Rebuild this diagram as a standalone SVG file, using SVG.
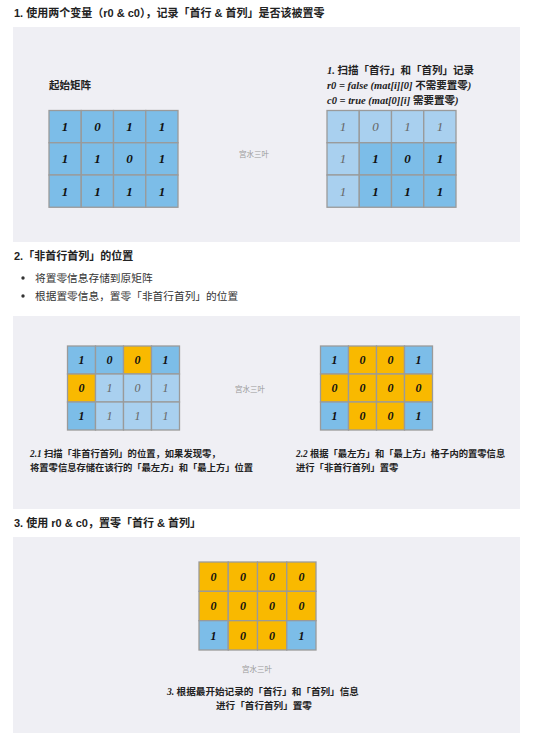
<svg xmlns="http://www.w3.org/2000/svg" width="541" height="737" viewBox="0 0 541 737">
<style>
.panel{fill:#EFEFF4}
.h{font-family:"Liberation Sans","Noto Sans CJK SC",sans-serif;font-size:11px;font-weight:bold;fill:#222}
.bt{font-family:"Liberation Sans","Noto Sans CJK SC",sans-serif;font-size:10.7px;fill:#333}
.cap{font-family:"Liberation Serif","Noto Sans CJK SC",serif;font-weight:bold;fill:#222}
.up{font-style:normal}
.wm{font-family:"Noto Sans CJK SC",sans-serif;font-size:7.5px;fill:#999}
rect.c{stroke:#9A9A9A;stroke-width:1.3}
.b{fill:#7CBDE8}.l{fill:#A9D0EF}.o{fill:#F9B900}
.n{font-family:"Liberation Serif",serif;font-style:italic;font-weight:bold;text-anchor:middle;fill:#111}
.nl{font-weight:normal;fill:#666}
.s13{font-size:13px}.s12{font-size:12px}
</style>
<rect width="541" height="737" fill="#ffffff"/>

<g id="heading1"><text class="h" x="14" y="17">1. 使用两个变量（r0 &amp; c0），记录「首行 &amp; 首列」是否该被置零</text></g>

<g id="panel1">
<rect class="panel" x="13" y="27" width="507" height="215"/>
<text class="cap" x="49" y="89" font-size="10.5">起始矩阵</text>
<text class="wm" x="239" y="157">宫水三叶</text>
<text class="cap" x="327" y="74" font-size="10.5"><tspan font-style="italic">1.</tspan> 扫描「首行」和「首列」记录</text>
<text class="cap" x="327" y="89" font-size="10.5" font-style="italic">r0 = false (mat[i][0] <tspan class="up">不需要置零</tspan>)</text>
<text class="cap" x="327" y="104" font-size="10.5" font-style="italic">c0 = true (mat[0][i] <tspan class="up">需要置零</tspan>)</text>
</g>

<g id="matrix1">
<rect class="c b" x="49" y="110.5" width="32.25" height="32.25"/><rect class="c b" x="81.25" y="110.5" width="32.25" height="32.25"/><rect class="c b" x="113.5" y="110.5" width="32.25" height="32.25"/><rect class="c b" x="145.75" y="110.5" width="32.25" height="32.25"/>
<rect class="c b" x="49" y="142.75" width="32.25" height="32.25"/><rect class="c b" x="81.25" y="142.75" width="32.25" height="32.25"/><rect class="c b" x="113.5" y="142.75" width="32.25" height="32.25"/><rect class="c b" x="145.75" y="142.75" width="32.25" height="32.25"/>
<rect class="c b" x="49" y="175" width="32.25" height="32.25"/><rect class="c b" x="81.25" y="175" width="32.25" height="32.25"/><rect class="c b" x="113.5" y="175" width="32.25" height="32.25"/><rect class="c b" x="145.75" y="175" width="32.25" height="32.25"/>
<g class="n s13">
<text x="65.1" y="131.1">1</text><text x="97.4" y="131.1">0</text><text x="129.6" y="131.1">1</text><text x="161.9" y="131.1">1</text>
<text x="65.1" y="163.4">1</text><text x="97.4" y="163.4">1</text><text x="129.6" y="163.4">0</text><text x="161.9" y="163.4">1</text>
<text x="65.1" y="195.6">1</text><text x="97.4" y="195.6">1</text><text x="129.6" y="195.6">1</text><text x="161.9" y="195.6">1</text>
</g>
</g>

<g id="matrix2">
<rect class="c l" x="327" y="110.5" width="32.25" height="32.25"/><rect class="c l" x="359.25" y="110.5" width="32.25" height="32.25"/><rect class="c l" x="391.5" y="110.5" width="32.25" height="32.25"/><rect class="c l" x="423.75" y="110.5" width="32.25" height="32.25"/>
<rect class="c l" x="327" y="142.75" width="32.25" height="32.25"/><rect class="c b" x="359.25" y="142.75" width="32.25" height="32.25"/><rect class="c b" x="391.5" y="142.75" width="32.25" height="32.25"/><rect class="c b" x="423.75" y="142.75" width="32.25" height="32.25"/>
<rect class="c l" x="327" y="175" width="32.25" height="32.25"/><rect class="c b" x="359.25" y="175" width="32.25" height="32.25"/><rect class="c b" x="391.5" y="175" width="32.25" height="32.25"/><rect class="c b" x="423.75" y="175" width="32.25" height="32.25"/>
<g class="n s13">
<text class="nl" x="343.1" y="131.1">1</text><text class="nl" x="375.4" y="131.1">0</text><text class="nl" x="407.6" y="131.1">1</text><text class="nl" x="439.9" y="131.1">1</text>
<text class="nl" x="343.1" y="163.4">1</text><text x="375.4" y="163.4">1</text><text x="407.6" y="163.4">0</text><text x="439.9" y="163.4">1</text>
<text class="nl" x="343.1" y="195.6">1</text><text x="375.4" y="195.6">1</text><text x="407.6" y="195.6">1</text><text x="439.9" y="195.6">1</text>
</g>
</g>

<g id="heading2">
<text class="h" x="14" y="260">2.「非首行首列」的位置</text>
<circle cx="23" cy="278" r="1.7" fill="#333"/>
<text class="bt" x="35" y="282">将置零信息存储到原矩阵</text>
<circle cx="23" cy="296" r="1.7" fill="#333"/>
<text class="bt" x="35" y="300">根据置零信息，置零「非首行首列」的位置</text>
</g>

<g id="panel2">
<rect class="panel" x="13" y="316" width="507" height="193"/>
<text class="wm" x="235" y="392">宫水三叶</text>
<text class="cap" x="30" y="457" font-size="9.3"><tspan font-style="italic">2.1</tspan> 扫描「非首行首列」的位置，如果发现零，</text>
<text class="cap" x="30" y="471" font-size="9.3">将置零信息存储在该行的「最左方」和「最上方」位置</text>
<text class="cap" x="296" y="457" font-size="9.3"><tspan font-style="italic">2.2</tspan> 根据「最左方」和「最上方」格子内的置零信息</text>
<text class="cap" x="296" y="471" font-size="9.3">进行「非首行首列」置零</text>
</g>

<g id="matrix3">
<rect class="c b" x="67.5" y="346" width="28" height="28"/><rect class="c b" x="95.5" y="346" width="28" height="28"/><rect class="c o" x="123.5" y="346" width="28" height="28"/><rect class="c b" x="151.5" y="346" width="28" height="28"/>
<rect class="c o" x="67.5" y="374" width="28" height="28"/><rect class="c l" x="95.5" y="374" width="28" height="28"/><rect class="c l" x="123.5" y="374" width="28" height="28"/><rect class="c l" x="151.5" y="374" width="28" height="28"/>
<rect class="c b" x="67.5" y="402" width="28" height="28"/><rect class="c l" x="95.5" y="402" width="28" height="28"/><rect class="c l" x="123.5" y="402" width="28" height="28"/><rect class="c l" x="151.5" y="402" width="28" height="28"/>
<g class="n s12">
<text x="81.5" y="364">1</text><text x="109.5" y="364">0</text><text x="137.5" y="364">0</text><text x="165.5" y="364">1</text>
<text x="81.5" y="392">0</text><text class="nl" x="109.5" y="392">1</text><text class="nl" x="137.5" y="392">0</text><text class="nl" x="165.5" y="392">1</text>
<text x="81.5" y="420">1</text><text class="nl" x="109.5" y="420">1</text><text class="nl" x="137.5" y="420">1</text><text class="nl" x="165.5" y="420">1</text>
</g>
</g>

<g id="matrix4">
<rect class="c b" x="320.5" y="346" width="28" height="28"/><rect class="c o" x="348.5" y="346" width="28" height="28"/><rect class="c o" x="376.5" y="346" width="28" height="28"/><rect class="c b" x="404.5" y="346" width="28" height="28"/>
<rect class="c o" x="320.5" y="374" width="28" height="28"/><rect class="c o" x="348.5" y="374" width="28" height="28"/><rect class="c o" x="376.5" y="374" width="28" height="28"/><rect class="c o" x="404.5" y="374" width="28" height="28"/>
<rect class="c b" x="320.5" y="402" width="28" height="28"/><rect class="c o" x="348.5" y="402" width="28" height="28"/><rect class="c o" x="376.5" y="402" width="28" height="28"/><rect class="c b" x="404.5" y="402" width="28" height="28"/>
<g class="n s12">
<text x="334.5" y="364">1</text><text x="362.5" y="364">0</text><text x="390.5" y="364">0</text><text x="418.5" y="364">1</text>
<text x="334.5" y="392">0</text><text x="362.5" y="392">0</text><text x="390.5" y="392">0</text><text x="418.5" y="392">0</text>
<text x="334.5" y="420">1</text><text x="362.5" y="420">0</text><text x="390.5" y="420">0</text><text x="418.5" y="420">1</text>
</g>
</g>

<g id="heading3"><text class="h" x="14" y="527">3. 使用 r0 &amp; c0，置零「首行 &amp; 首列」</text></g>

<g id="panel3">
<rect class="panel" x="13" y="537" width="507" height="196"/>
<text class="wm" x="242" y="672">宫水三叶</text>
<text class="cap" x="167" y="695" font-size="9.6"><tspan font-style="italic">3.</tspan> 根据最开始记录的「首行」和「首列」信息</text>
<text class="cap" x="264" y="709" font-size="9.6" text-anchor="middle">进行「首行首列」置零</text>
</g>

<g id="matrix5">
<rect class="c o" x="199" y="562" width="29.25" height="29.33"/><rect class="c o" x="228.25" y="562" width="29.25" height="29.33"/><rect class="c o" x="257.5" y="562" width="29.25" height="29.33"/><rect class="c o" x="286.75" y="562" width="29.25" height="29.33"/>
<rect class="c o" x="199" y="591.33" width="29.25" height="29.33"/><rect class="c o" x="228.25" y="591.33" width="29.25" height="29.33"/><rect class="c o" x="257.5" y="591.33" width="29.25" height="29.33"/><rect class="c o" x="286.75" y="591.33" width="29.25" height="29.33"/>
<rect class="c b" x="199" y="620.67" width="29.25" height="29.33"/><rect class="c o" x="228.25" y="620.67" width="29.25" height="29.33"/><rect class="c o" x="257.5" y="620.67" width="29.25" height="29.33"/><rect class="c b" x="286.75" y="620.67" width="29.25" height="29.33"/>
<g class="n s12">
<text x="213.6" y="581">0</text><text x="242.9" y="581">0</text><text x="272.1" y="581">0</text><text x="301.4" y="581">0</text>
<text x="213.6" y="610.3">0</text><text x="242.9" y="610.3">0</text><text x="272.1" y="610.3">0</text><text x="301.4" y="610.3">0</text>
<text x="213.6" y="639.6">1</text><text x="242.9" y="639.6">0</text><text x="272.1" y="639.6">0</text><text x="301.4" y="639.6">1</text>
</g>
</g>
</svg>
